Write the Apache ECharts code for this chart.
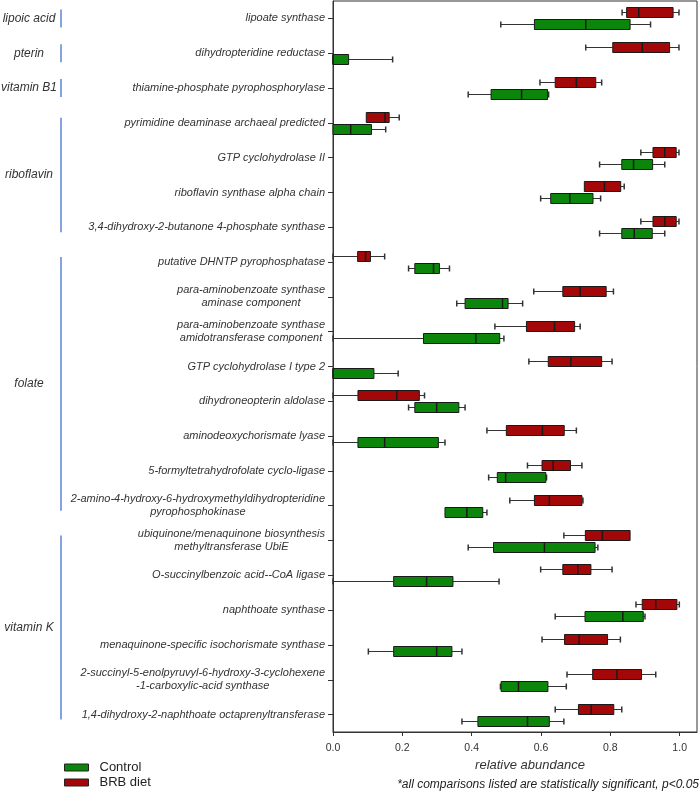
<!DOCTYPE html>
<html>
<head>
<meta charset="utf-8">
<script src="https://cdn.jsdelivr.net/npm/echarts@6/dist/echarts.min.js"></script>
<style>
  html, body { margin: 0; padding: 0; background: #fff; }
  #chart { width: 700px; height: 796px; }
</style>
</head>
<body>
<div id="chart"></div>
<script>
// enzyme rows, top to bottom
const categories = [
  "lipoate synthase",
  "dihydropteridine reductase",
  "thiamine-phosphate pyrophosphorylase",
  "pyrimidine deaminase archaeal predicted",
  "GTP cyclohydrolase II",
  "riboflavin synthase alpha chain",
  "3,4-dihydroxy-2-butanone 4-phosphate synthase",
  "putative DHNTP pyrophosphatase",
  "para-aminobenzoate synthase\naminase component",
  "para-aminobenzoate synthase\namidotransferase component",
  "GTP cyclohydrolase I type 2",
  "dihydroneopterin aldolase",
  "aminodeoxychorismate lyase",
  "5-formyltetrahydrofolate cyclo-ligase",
  "2-amino-4-hydroxy-6-hydroxymethyldihydropteridine\npyrophosphokinase",
  "ubiquinone/menaquinone biosynthesis\nmethyltransferase UbiE",
  "O-succinylbenzoic acid--CoA ligase",
  "naphthoate synthase",
  "menaquinone-specific isochorismate synthase",
  "2-succinyl-5-enolpyruvyl-6-hydroxy-3-cyclohexene\n-1-carboxylic-acid synthase",
  "1,4-dihydroxy-2-naphthoate octaprenyltransferase"
];

// [min, q1, median, q3, max]
const controlData = [
  [0.484, 0.581, 0.729, 0.857, 0.916],
  [0.0, 0.0, 0.0, 0.045, 0.172],
  [0.390, 0.456, 0.544, 0.619, 0.622],
  [0.0, 0.0, 0.051, 0.111, 0.152],
  [0.769, 0.833, 0.867, 0.922, 0.957],
  [0.599, 0.628, 0.683, 0.750, 0.772],
  [0.769, 0.833, 0.869, 0.921, 0.957],
  [0.218, 0.236, 0.290, 0.307, 0.336],
  [0.357, 0.381, 0.489, 0.505, 0.547],
  [0.0, 0.261, 0.412, 0.481, 0.493],
  [0.0, 0.0, 0.0, 0.118, 0.188],
  [0.218, 0.236, 0.299, 0.363, 0.381],
  [0.0, 0.072, 0.149, 0.304, 0.323],
  [0.449, 0.474, 0.498, 0.614, 0.616],
  [0.323, 0.323, 0.386, 0.432, 0.444],
  [0.390, 0.463, 0.610, 0.756, 0.764],
  [0.0, 0.175, 0.270, 0.346, 0.479],
  [0.641, 0.727, 0.836, 0.895, 0.900],
  [0.102, 0.175, 0.299, 0.343, 0.372],
  [0.483, 0.485, 0.535, 0.620, 0.673],
  [0.372, 0.418, 0.561, 0.624, 0.666]
];

const brbData = [
  [0.834, 0.847, 0.882, 0.981, 0.998],
  [0.729, 0.807, 0.892, 0.971, 0.998],
  [0.597, 0.641, 0.702, 0.758, 0.775],
  [0.096, 0.096, 0.150, 0.162, 0.191],
  [0.888, 0.923, 0.957, 0.990, 0.998],
  [0.725, 0.725, 0.783, 0.830, 0.840],
  [0.888, 0.923, 0.957, 0.990, 0.998],
  [0.0, 0.071, 0.094, 0.108, 0.149],
  [0.579, 0.663, 0.713, 0.788, 0.809],
  [0.467, 0.558, 0.639, 0.697, 0.713],
  [0.565, 0.621, 0.686, 0.775, 0.805],
  [0.0, 0.072, 0.184, 0.249, 0.264],
  [0.444, 0.500, 0.604, 0.667, 0.702],
  [0.561, 0.603, 0.635, 0.685, 0.718],
  [0.510, 0.581, 0.624, 0.718, 0.721],
  [0.666, 0.728, 0.777, 0.857, 0.857],
  [0.599, 0.663, 0.706, 0.744, 0.805],
  [0.874, 0.892, 0.931, 0.992, 0.999],
  [0.603, 0.668, 0.710, 0.792, 0.829],
  [0.675, 0.749, 0.819, 0.890, 0.931],
  [0.641, 0.708, 0.745, 0.810, 0.833]
];

// pathway groups (first / last row index)
const groupNames = ["lipoic acid", "pterin", "vitamin B1", "riboflavin", "folate", "vitamin K"];
const groupStart = [0, 1, 2, 3, 7, 15];
const groupEnd = [0, 1, 2, 6, 14, 20];

const FONT = "'Liberation Sans', Arial, sans-serif";
const GREEN = "#0b860b";
const RED = "#a30707";

const chart = echarts.init(document.getElementById("chart"));

// box + whiskers drawn through the axes
function makeBox(offset, fill) {
  return function (params, api) {
    const cat = api.value(0);
    const xs = [1, 2, 3, 4, 5].map((i) => api.coord([api.value(i), cat])[0]);
    const yc = Math.round(api.coord([0, cat])[1] + offset) + 0.5;
    const h = 10;
    const cap = 3;
    const ln = (x1, y1, x2, y2, w, c) => ({
      type: "line",
      shape: { x1, y1, x2, y2 },
      style: { stroke: c || "#333", lineWidth: w || 1 },
    });
    const kids = [];
    if (xs[1] - xs[0] > 0.5) {
      kids.push(ln(xs[0], yc, xs[1], yc));
      kids.push(ln(xs[0], yc - cap, xs[0], yc + cap, 1.5));
    }
    if (xs[4] - xs[3] > 0.5) {
      kids.push(ln(xs[3], yc, xs[4], yc));
      kids.push(ln(xs[4], yc - cap, xs[4], yc + cap, 1.5));
    }
    kids.push({
      type: "rect",
      shape: { x: xs[1], y: yc - h / 2, width: xs[3] - xs[1], height: h },
      style: { fill: fill, stroke: "#1a1a1a", lineWidth: 1 },
    });
    kids.push(ln(xs[2], yc - h / 2, xs[2], yc + h / 2, 1.5, "#1a1a1a"));
    return { type: "group", children: kids };
  };
}

const option = {
  animation: false,
  grid: {
    left: 333,
    right: 3,
    top: 1,
    bottom: 64,
    show: true,
    borderColor: "#333",
    borderWidth: 1,
  },
  legend: {
    orient: "vertical",
    left: 64,
    top: 761,
    padding: 0,
    itemWidth: 24,
    itemHeight: 7,
    itemGap: 2,
    selectedMode: false,
    data: [
      { name: "Control", icon: "rect", itemStyle: { color: GREEN, borderColor: "#222", borderWidth: 1 } },
      { name: "BRB diet", icon: "rect", itemStyle: { color: RED, borderColor: "#222", borderWidth: 1 } },
    ],
    textStyle: { fontFamily: FONT, fontSize: 13, color: "#222", padding: [0, 0, 0, 6] },
  },
  xAxis: {
    type: "value",
    min: 0,
    max: 1.05,
    interval: 0.2,
    name: "relative abundance",
    nameLocation: "middle",
    nameGap: 23,
    nameTextStyle: {
      fontFamily: FONT,
      fontSize: 13,
      fontStyle: "italic",
      color: "#333",
      padding: [0, 0, 0, 30],
    },
    axisLine: { show: true, lineStyle: { color: "#333" } },
    axisTick: { show: true, length: 4, lineStyle: { color: "#333" } },
    axisLabel: {
      showMaxLabel: false,
      margin: 11,
      fontFamily: FONT,
      fontSize: 10.5,
      color: "#333",
      formatter: (v) => v.toFixed(1),
    },
    splitLine: { show: false },
  },
  yAxis: {
    type: "category",
    inverse: true,
    data: categories,
    axisLine: { show: true, lineStyle: { color: "#333" } },
    axisTick: { show: true, alignWithLabel: true, length: 5, lineStyle: { color: "#333" } },
    axisLabel: {
      margin: 8,
      interval: 0,
      formatter: (v) => v.split("\n").map((s) => "{a|" + s + "}").join("\n"),
      rich: {
        a: {
          align: "center",
          fontFamily: FONT,
          fontSize: 11,
          fontStyle: "italic",
          color: "#333",
          lineHeight: 13,
        },
      },
    },
    splitLine: { show: false },
  },
  series: [
    {
      name: "BRB diet",
      type: "custom",
      itemStyle: { color: RED },
      renderItem: makeBox(-6, RED),
      encode: { x: [1, 2, 3, 4, 5], y: 0 },
      data: brbData.map((d, i) => [i].concat(d)),
    },
    {
      name: "Control",
      type: "custom",
      itemStyle: { color: GREEN },
      renderItem: makeBox(6, GREEN),
      encode: { x: [1, 2, 3, 4, 5], y: 0 },
      data: controlData.map((d, i) => [i].concat(d)),
    },
  ],
};

chart.setOption(option);

// group labels + blue brackets, placed from the category axis
const graphics = [];
groupNames.forEach((g, i) => {
  const y0 = chart.convertToPixel({ yAxisIndex: 0 }, categories[groupStart[i]]);
  const y1 = chart.convertToPixel({ yAxisIndex: 0 }, categories[groupEnd[i]]);
  const pad = groupStart[i] === groupEnd[i] ? 9 : 5;
  graphics.push({
    type: "line",
    shape: { x1: 61, y1: y0 - pad, x2: 61, y2: y1 + pad },
    style: { stroke: "#5b86d4", lineWidth: 1.5 },
  });
  graphics.push({
    type: "text",
    x: 29,
    y: (y0 + y1) / 2,
    style: {
      text: g,
      align: "center",
      verticalAlign: "middle",
      font: "italic 12px " + FONT,
      fill: "#333",
    },
  });
});
graphics.push({
  type: "text",
  right: 1,
  top: 779,
  style: {
    text: "*all comparisons listed are statistically significant, p<0.05",
    font: "italic 12px " + FONT,
    fill: "#222",
  },
});
chart.setOption({ graphic: graphics });

window.addEventListener("resize", () => chart.resize());
</script>
</body>
</html>
